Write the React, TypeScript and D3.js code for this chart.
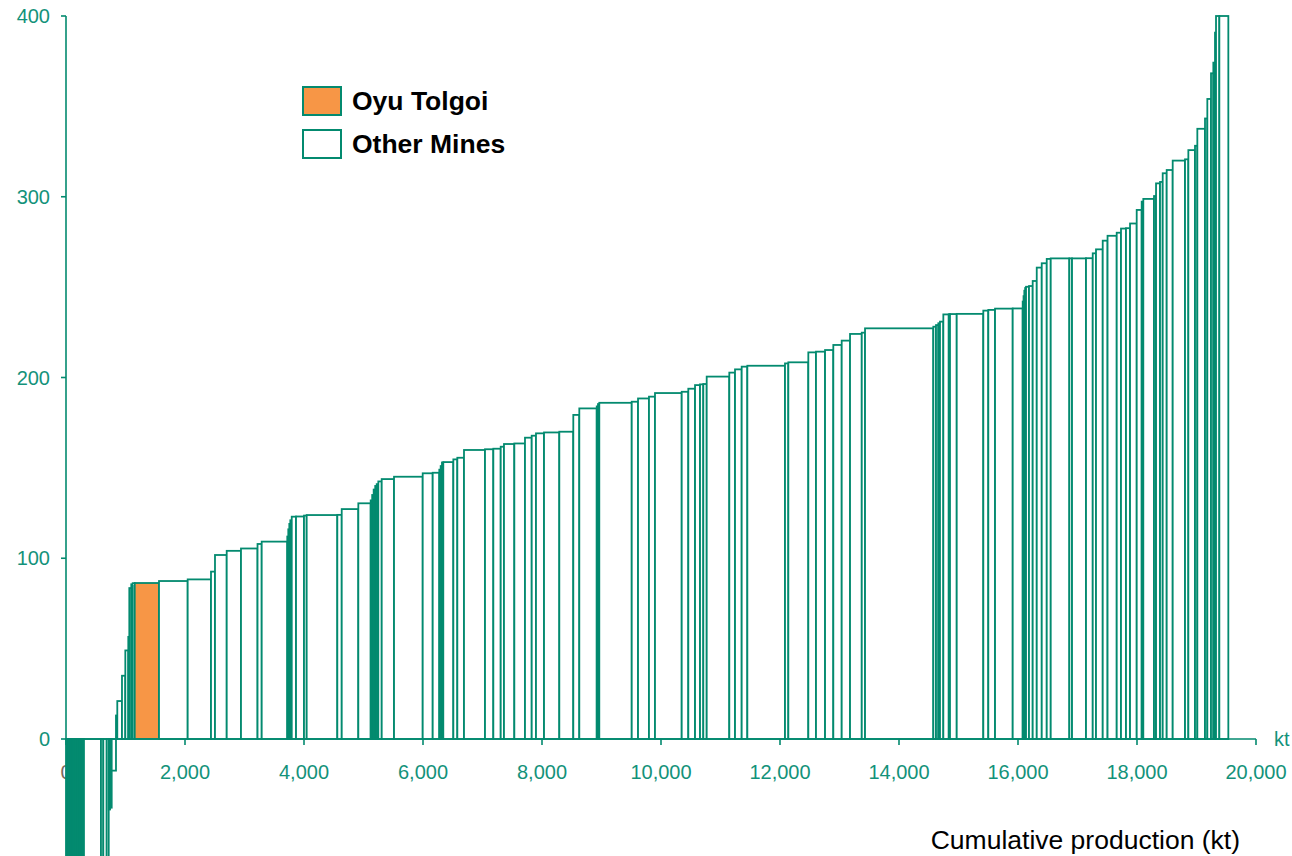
import React from "react";
import * as d3 from "d3";

// Cumulative production at the right edge of each mine (kt), sorted by cost
const cumulativeEnd: number[] = [
  20, 38, 55, 75, 92, 110, 130, 148, 165, 185, 200, 220, 240, 258, 275, 295, 302,
  588, 627, 684, 718, 740, 768, 840, 862, 941, 997, 1047, 1064, 1097, 1121, 1155,
  1563, 2045, 2437, 2504, 2701, 2941, 3219, 3289, 3719, 3736, 3753, 3770, 3794,
  3866, 4000, 4045, 4560, 4634, 4913, 5121, 5146, 5171, 5197, 5222, 5249, 5306,
  5513, 5995, 6163, 6274, 6297, 6319, 6341, 6510, 6577, 6689, 7042, 7182, 7306,
  7361, 7535, 7714, 7827, 7899, 8034, 8291, 8526, 8627, 8920, 8941, 8963, 9508,
  9614, 9798, 9899, 10348, 10459, 10572, 10656, 10711, 10768, 11148, 11244, 11356,
  11451, 12084, 12140, 12476, 12605, 12757, 12896, 13037, 13177, 13374, 13429,
  14577, 14622, 14661, 14689, 14745, 14836, 14857, 14970, 15417, 15501, 15614,
  15911, 16079, 16093, 16106, 16120, 16135, 16185, 16247, 16315, 16399, 16483,
  16550, 16863, 16908, 17143, 17256, 17311, 17424, 17505, 17659, 17731, 17815,
  17883, 17995, 18079, 18106, 18286, 18320, 18387, 18432, 18499, 18600, 18807,
  18863, 18975, 19014, 19143, 19182, 19244, 19283, 19311, 19328, 19384, 19535,
];

// Unit cost of each mine
const unitCost: number[] = [
  -260, -250, -240, -232, -225, -218, -210, -200, -190, -180, -172, -165, -158, -150, -143, -137, -130,
  -120, -115, -110, -90, -39, -38, -17.5, 13, 21, 35, 49, 56.5, 83.5, 85.6, 86.2,
  86.3, 87.4, 88.3, 92.6, 101.8, 104.1, 105.4, 107.9, 109.2, 112, 116, 119, 121,
  123, 123.1, 123.6, 123.9, 124, 127.2, 130.4, 132, 135, 138, 140, 141, 142.5,
  143.8, 145.1, 147, 147.3, 149, 151, 153, 153.2, 154.7, 155.6, 159.9, 160.3, 160.6,
  161.7, 163.2, 163.5, 166.7, 167.8, 169.1, 169.6, 170, 179.3, 182.9, 184, 185.3, 186,
  186.6, 188.4, 189.4, 191.4, 192.1, 193.8, 195.8, 196.2, 196.4, 200.5, 202.7, 204.5,
  206, 206.5, 207.8, 208.4, 213.9, 214.3, 215.2, 218, 220.4, 224.1, 224.8,
  227.2, 228.1, 229, 230, 230.9, 234.9, 235, 235.1, 235.2, 237, 237.4,
  238.1, 238.2, 242, 245, 248, 249.5, 250.2, 250.6, 253.4, 260.8, 263.2,
  265.6, 265.9, 265.9, 265.9, 266, 268.7, 270.9, 275.7, 278.4, 280.1, 282.4,
  282.6, 285.2, 292.7, 297.3, 298.8, 300.4, 307.4, 308.2, 313, 314.8, 320,
  320.7, 325.8, 328.2, 337.6, 343.3, 354.1, 368.3, 374.2, 390.8, 420, 460,
];

const highlightIndex = 32; // Oyu Tolgoi

const xTicks: number[] = [0, 2000, 4000, 6000, 8000, 10000, 12000, 14000, 16000, 18000, 20000];
const yTicks: number[] = [0, 100, 200, 300, 400];
const legendLabels: string[] = ["Oyu Tolgoi", "Other Mines"];

const TEAL = "#038A6F";
const TEXT_TEAL = "#13927A";
const ORANGE = "#F79646";
const FONT = "'Liberation Sans', Arial, Helvetica, sans-serif";

export default function App() {
  const width = 1292;
  const height = 856;
  const x = d3.scaleLinear().domain([0, 20000]).range([66, 1256]);
  const y = d3.scaleLinear().domain([0, 400]).range([739, 16]);
  const fmt = d3.format(",");

  const bars = cumulativeEnd.map((end, i) => {
    const start = i === 0 ? 0 : cumulativeEnd[i - 1];
    const v = Math.max(-150, Math.min(400, unitCost[i]));
    return { start, end, v, i };
  });

  return (
    <svg
      width={width}
      height={height}
      style={{ position: "absolute", left: 0, top: 0, background: "#fff" }}
      fontFamily={FONT}
    >
      {/* first x tick label, under the bars */}
      <text x={x(0)} y={779} textAnchor="middle" fontSize={20} fill="#7a6a5c">
        {fmt(0)}
      </text>

      {bars.map((b) => {
        const x0 = x(b.start);
        const x1 = x(b.end);
        const yv = y(b.v);
        const y0 = y(0);
        return (
          <rect
            key={b.i}
            x={x0}
            y={Math.min(yv, y0)}
            width={Math.max(0.01, x1 - x0)}
            height={Math.abs(y0 - yv)}
            fill={b.i === highlightIndex ? ORANGE : "#ffffff"}
            stroke={TEAL}
            strokeWidth={1.8}
          />
        );
      })}

      {/* y axis */}
      <line x1={66} x2={66} y1={y(400)} y2={y(0)} stroke={TEAL} strokeWidth={1.6} />
      {yTicks.map((t) => (
        <g key={"y" + t}>
          <line x1={61} x2={66} y1={y(t)} y2={y(t)} stroke={TEAL} strokeWidth={1.6} />
          <text x={50} y={y(t) + 7} textAnchor="end" fontSize={20} fill={TEXT_TEAL}>
            {t}
          </text>
        </g>
      ))}

      {/* x axis */}
      <line x1={x(0)} x2={x(20000)} y1={y(0)} y2={y(0)} stroke={TEAL} strokeWidth={1.6} />
      {xTicks.map((t) => (
        <g key={"x" + t}>
          <line x1={x(t)} x2={x(t)} y1={y(0)} y2={y(0) + 6} stroke={TEAL} strokeWidth={1.6} />
          {t !== 0 && (
            <text x={x(t)} y={779} textAnchor="middle" fontSize={20} fill={TEXT_TEAL}>
              {fmt(t)}
            </text>
          )}
        </g>
      ))}
      <text x={1274} y={746} fontSize={20} fill={TEXT_TEAL}>kt</text>

      <text x={1240} y={849} textAnchor="end" fontSize={26.5} fill="#000">
        Cumulative production (kt)
      </text>

      {/* legend */}
      {legendLabels.map((label, i) => (
        <g key={label} transform={`translate(303, ${87 + i * 43})`}>
          <rect
            x={0}
            y={0}
            width={38}
            height={28}
            fill={i === 0 ? ORANGE : "#ffffff"}
            stroke={TEAL}
            strokeWidth={2}
          />
          <text x={49} y={23} fontSize={26.5} fontWeight="bold" fill="#000">
            {label}
          </text>
        </g>
      ))}
    </svg>
  );
}
